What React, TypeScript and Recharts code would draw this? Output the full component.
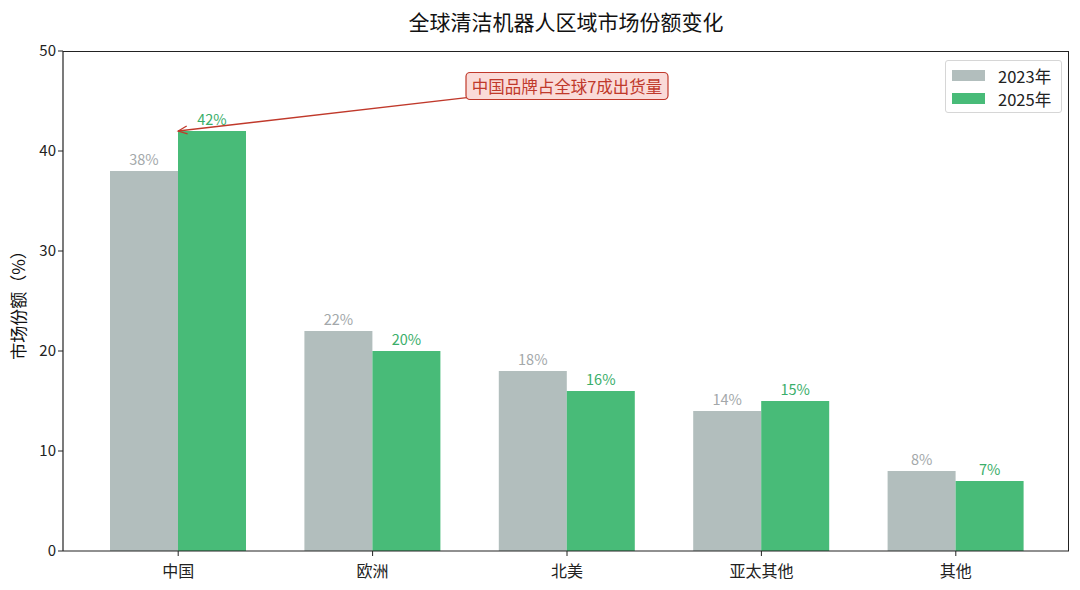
import { BarChart, Bar, XAxis, YAxis, LabelList, ReferenceLine, ReferenceDot } from 'recharts';

const regions = ['中国', '欧洲', '北美', '亚太其他', '其他'];
const share2023 = [38, 22, 18, 14, 8];
const share2025 = [42, 20, 16, 15, 7];
const yTicks = [0, 10, 20, 30, 40, 50];

const annotationText = '中国品牌占全球7成出货量';
const annotationTarget = { region: '中国', value: 42 };
const annotationBox = { region: '北美', value: 46.5 };

const GRAY = '#b2bebd';
const GREEN = '#48bb78';
const FONT = '"Noto Sans CJK SC", "DejaVu Sans", sans-serif';

const data = regions.map((r, i) => ({ region: r, y2023: share2023[i], y2025: share2025[i] }));

function ArrowLine({ x1, y1, x2, y2 }: any) {
  // line runs from the box centre (hidden under the box) to the target point
  const dx = x2 - x1;
  const dy = y2 - y1;
  const len = Math.sqrt(dx * dx + dy * dy) || 1;
  const ux = dx / len;
  const uy = dy / len;
  const hl = 9;
  const hw = 4;
  const p1 = [x2 - ux * hl - uy * hw, y2 - uy * hl + ux * hw];
  const p2 = [x2 - ux * hl + uy * hw, y2 - uy * hl - ux * hw];
  return (
    <g>
      <line x1={x1} y1={y1} x2={x2} y2={y2} stroke="#c0392b" strokeWidth={1.3} />
      <polyline
        points={`${p1[0]},${p1[1]} ${x2},${y2} ${p2[0]},${p2[1]}`}
        fill="none"
        stroke="#c0392b"
        strokeWidth={1.3}
      />
    </g>
  );
}

function AnnotationBox({ cx, cy }: any) {
  const w = 202;
  const h = 27;
  return (
    <g>
      <rect x={cx - w / 2} y={cy - h / 2} width={w} height={h} rx={4} fill="#fadbd8" stroke="#c0392b" strokeWidth={1.2} />
      <text x={cx} y={cy} textAnchor="middle" dominantBaseline="central" fill="#c0392b" fontSize={16.5} fontFamily={FONT}>
        {annotationText}
      </text>
    </g>
  );
}

function LegendBox() {
  const items = [
    { label: '2023年', color: GRAY },
    { label: '2025年', color: GREEN },
  ];
  return (
    <div
      style={{
        position: 'absolute',
        left: 945,
        top: 60,
        width: 117,
        height: 53,
        boxSizing: 'border-box',
        background: 'rgba(255,255,255,0.9)',
        border: '1px solid #d6d6d6',
        borderRadius: 3,
        padding: '3px 0 0 6px',
        fontFamily: FONT,
        fontSize: 16.5,
        color: '#222',
      }}
    >
      {items.map(it => (
        <div key={it.label} style={{ display: 'flex', alignItems: 'center', height: 23 }}>
          <div style={{ width: 33, height: 11, background: it.color, marginRight: 13 }} />
          <span>{it.label}</span>
        </div>
      ))}
    </div>
  );
}

export default function App() {
  return (
    <div style={{ position: 'absolute', left: 0, top: 0, width: 1080, height: 590, background: '#fff', fontFamily: FONT }}>
      <div
        style={{
          position: 'absolute',
          top: 6,
          left: 63,
          width: 1006,
          textAlign: 'center',
          fontSize: 21,
          color: '#111',
        }}
      >
        全球清洁机器人区域市场份额变化
      </div>
      <BarChart
        width={1080}
        height={590}
        data={data}
        margin={{ top: 51, right: 11, left: 0, bottom: 0 }}
        barGap={0}
        barSize={68}
      >
        <XAxis
          dataKey="region"
          height={39}
          padding={{ left: 18, right: 16 }}
          tick={{ fontSize: 16, fill: '#222', fontFamily: FONT }}
          tickLine={{ stroke: '#222' }}
          tickSize={5}
          tickMargin={10}
          axisLine={{ stroke: '#222', strokeWidth: 1.2 }}
          interval={0}
        />
        <YAxis
          width={63}
          domain={[0, 50]}
          ticks={yTicks}
          tick={{ fontSize: 15, fill: '#222', fontFamily: FONT }}
          tickLine={{ stroke: '#222' }}
          tickSize={5}
          axisLine={{ stroke: '#222', strokeWidth: 1.2 }}
          label={{
            value: '市场份额（%）',
            angle: -90,
            position: 'insideLeft',
            offset: 19,
            style: { fontSize: 17, fill: '#111', fontFamily: FONT, textAnchor: 'middle' },
          }}
        />
        <Bar dataKey="y2023" name="2023年" fill={GRAY} isAnimationActive={false}>
          <LabelList
            dataKey="y2023"
            position="top"
            offset={6}
            formatter={(v: any) => `${v}%`}
            style={{ fontSize: 14.5, fill: '#a3a8aa', fontFamily: FONT }}
          />
        </Bar>
        <Bar dataKey="y2025" name="2025年" fill={GREEN} isAnimationActive={false}>
          <LabelList
            dataKey="y2025"
            position="top"
            offset={6}
            formatter={(v: any) => `${v}%`}
            style={{ fontSize: 14.5, fill: '#3aae6a', fontFamily: FONT }}
          />
        </Bar>
        <ReferenceLine
          segment={[
            { x: annotationBox.region, y: annotationBox.value },
            { x: annotationTarget.region, y: annotationTarget.value },
          ]}
          shape={(p: any) => <ArrowLine {...p} />}
          ifOverflow="visible"
        />
        <ReferenceDot
          x={annotationBox.region}
          y={annotationBox.value}
          shape={(p: any) => <AnnotationBox {...p} />}
          ifOverflow="visible"
        />
      </BarChart>
      <LegendBox />
      <div
        style={{
          position: 'absolute',
          left: 63,
          top: 51,
          width: 1006,
          height: 500,
          boxSizing: 'border-box',
          borderTop: '1.2px solid #222',
          borderRight: '1.2px solid #222',
          pointerEvents: 'none',
        }}
      />
    </div>
  );
}
